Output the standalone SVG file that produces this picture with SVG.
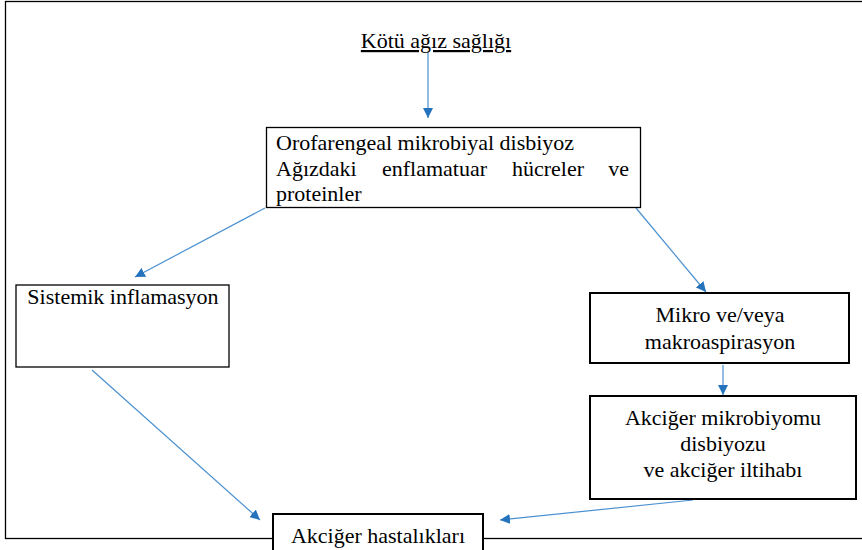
<svg xmlns="http://www.w3.org/2000/svg" width="862" height="550" viewBox="0 0 862 550">
<style>
text{font-family:"Liberation Serif","Times New Roman",serif;font-size:22px;fill:#000}
.box{fill:#fff;stroke:#000;stroke-width:1.3}
.thick{stroke-width:2}
.c{fill:none;stroke:#4a90d0;stroke-width:1.2}
.mid{text-anchor:middle}
</style>
<defs>
<marker id="ah" viewBox="0 0 10 10" refX="10" refY="5" markerWidth="10" markerHeight="10" markerUnits="userSpaceOnUse" orient="auto">
<path d="M0,0 L10,5 L0,10 Z" fill="#2673BD"/>
</marker>
</defs>
<rect x="5.5" y="1.5" width="870" height="537" fill="none" stroke="#000" stroke-width="1.3"/>
<g id="connectors">
<line class="c" x1="428" y1="52" x2="428" y2="118" marker-end="url(#ah)"/>
<line class="c" x1="265" y1="208" x2="135" y2="277" marker-end="url(#ah)"/>
<line class="c" x1="636" y1="208" x2="706" y2="292" marker-end="url(#ah)"/>
<line class="c" x1="92" y1="370" x2="260" y2="520" marker-end="url(#ah)"/>
<line class="c" x1="723" y1="365" x2="723" y2="395" marker-end="url(#ah)"/>
<line class="c" x1="693" y1="500" x2="500" y2="520" marker-end="url(#ah)"/>
</g>
<g id="n0">
<text x="436" y="48" class="mid" text-decoration="underline">Kötü ağız sağlığı</text>
</g>
<g id="n1">
<rect class="box" x="266.5" y="127.5" width="374" height="80"/>
<text x="276" y="150">Orofarengeal mikrobiyal disbiyoz</text>
<text x="276" y="176">Ağızdaki</text>
<text x="382" y="176">enflamatuar</text>
<text x="512" y="176">hücreler</text>
<text x="629" y="176" text-anchor="end">ve</text>
<text x="276" y="201">proteinler</text>
</g>
<g id="n2">
<rect class="box" x="16" y="285" width="213" height="82"/>
<text x="123" y="304" class="mid">Sistemik inflamasyon</text>
</g>
<g id="n3">
<rect class="box thick" x="590" y="293" width="259" height="70"/>
<text x="720" y="322" class="mid">Mikro ve/veya</text>
<text x="720" y="349" class="mid">makroaspirasyon</text>
</g>
<g id="n4">
<rect class="box thick" x="590" y="396" width="266" height="103"/>
<text x="723" y="425" class="mid">Akciğer mikrobiyomu</text>
<text x="723" y="451" class="mid">disbiyozu</text>
<text x="723" y="477" class="mid">ve akciğer iltihabı</text>
</g>
<g id="n5">
<rect class="box thick" x="273" y="514" width="210" height="50"/>
<text x="378" y="543" class="mid">Akciğer hastalıkları</text>
</g>
</svg>
